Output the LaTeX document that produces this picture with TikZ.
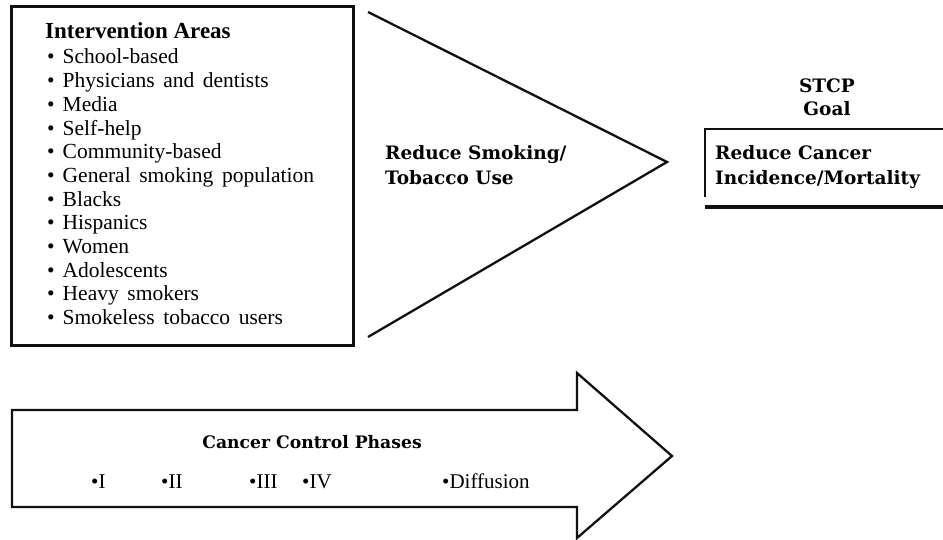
\documentclass[tikz,border=0pt]{standalone}
\usepackage{fontspec}
\setmainfont{Liberation Serif}
\newfontfamily\headfont{DejaVu Serif}
\usetikzlibrary{positioning}
\definecolor{inkBlack}{HTML}{111111}
\newcommand{\widegap}{\spaceskip=0.4em plus 0.1em\relax}
\tikzset{
    areabox/.style={draw=inkBlack, line width=3pt},
    outline/.style={draw=inkBlack, line width=2.3pt, line join=miter},
    areahead/.style={inner sep=0pt, anchor=base west, font=\fontsize{23}{25}\selectfont\bfseries},
    areaitem/.style={inner sep=0pt, anchor=base west, font=\fontsize{21.5}{23.7}\selectfont},
    goalhead/.style={inner sep=0pt, anchor=base, font=\fontsize{18.5}{25}\headfont\bfseries},
    goaltext/.style={inner sep=0pt, anchor=base west, font=\fontsize{18.5}{25}\headfont\bfseries},
    phasehead/.style={inner sep=0pt, anchor=base, font=\fontsize{17.2}{22}\headfont\bfseries},
    phaseitem/.style={inner sep=0pt, anchor=base west, font=\fontsize{21}{24}\selectfont},
}

\begin{document}
\begin{tikzpicture}[x=1pt, y=-1pt]
    \useasboundingbox (0,0) rectangle (943,540);

    % Intervention areas box
    \draw[areabox] (11,7) rectangle (353,345);
    \node[areahead] (areas) at (45,39) {Intervention Areas};
    \foreach \txt [count=\i from 0] in {School-based, Physicians and dentists, Media, Self-help,
        Community-based, General smoking population, Blacks, Hispanics, Women,
        Adolescents, Heavy smokers, Smokeless tobacco users}
        \node[areaitem] (item\i) at (47,64+23.7*\i) {\widegap\textbullet\hspace{8pt}\txt};

    % Triangle
    \coordinate (triTop) at (368,12);
    \coordinate (triTip) at (667,162);
    \coordinate (triBot) at (368,337);
    \draw[outline] (triTop) -- (triTip) -- (triBot);
    \node[goaltext] (smoke1) at (385,160) {Reduce Smoking/};
    \node[goaltext] (smoke2) at (385,185) {Tobacco Use};

    % Goal
    \node[goalhead] (stcp) at (827,93) {STCP};
    \node[goalhead] (goal) at (827,116) {Goal};
    \draw[draw=inkBlack, line width=2.6pt] (943,129) -- (705,129);
    \draw[draw=inkBlack, line width=2pt] (705,128) -- (705,197);
    \draw[draw=inkBlack, line width=3.2pt] (705,207) -- (943,207);
    \node[goaltext] (cancer1) at (715,160) {Reduce Cancer};
    \node[goaltext] (cancer2) at (715,185) {Incidence/Mortality};

    % Phases arrow
    \draw[outline] (12,410) -- (577,410) -- (577,373) -- (672,456)
        -- (577,538) -- (577,507) -- (12,507) -- cycle;
    \node[phasehead] (phases) at (312,448) {Cancer Control Phases};
    \node[phaseitem] (ph1) at (91,488) {\textbullet I};
    \node[phaseitem] (ph2) at (161,488) {\textbullet II};
    \node[phaseitem] (ph3) at (249,488) {\textbullet III};
    \node[phaseitem] (ph4) at (302,488) {\textbullet IV};
    \node[phaseitem] (ph5) at (442,488) {\textbullet Diffusion};
\end{tikzpicture}
\end{document}
